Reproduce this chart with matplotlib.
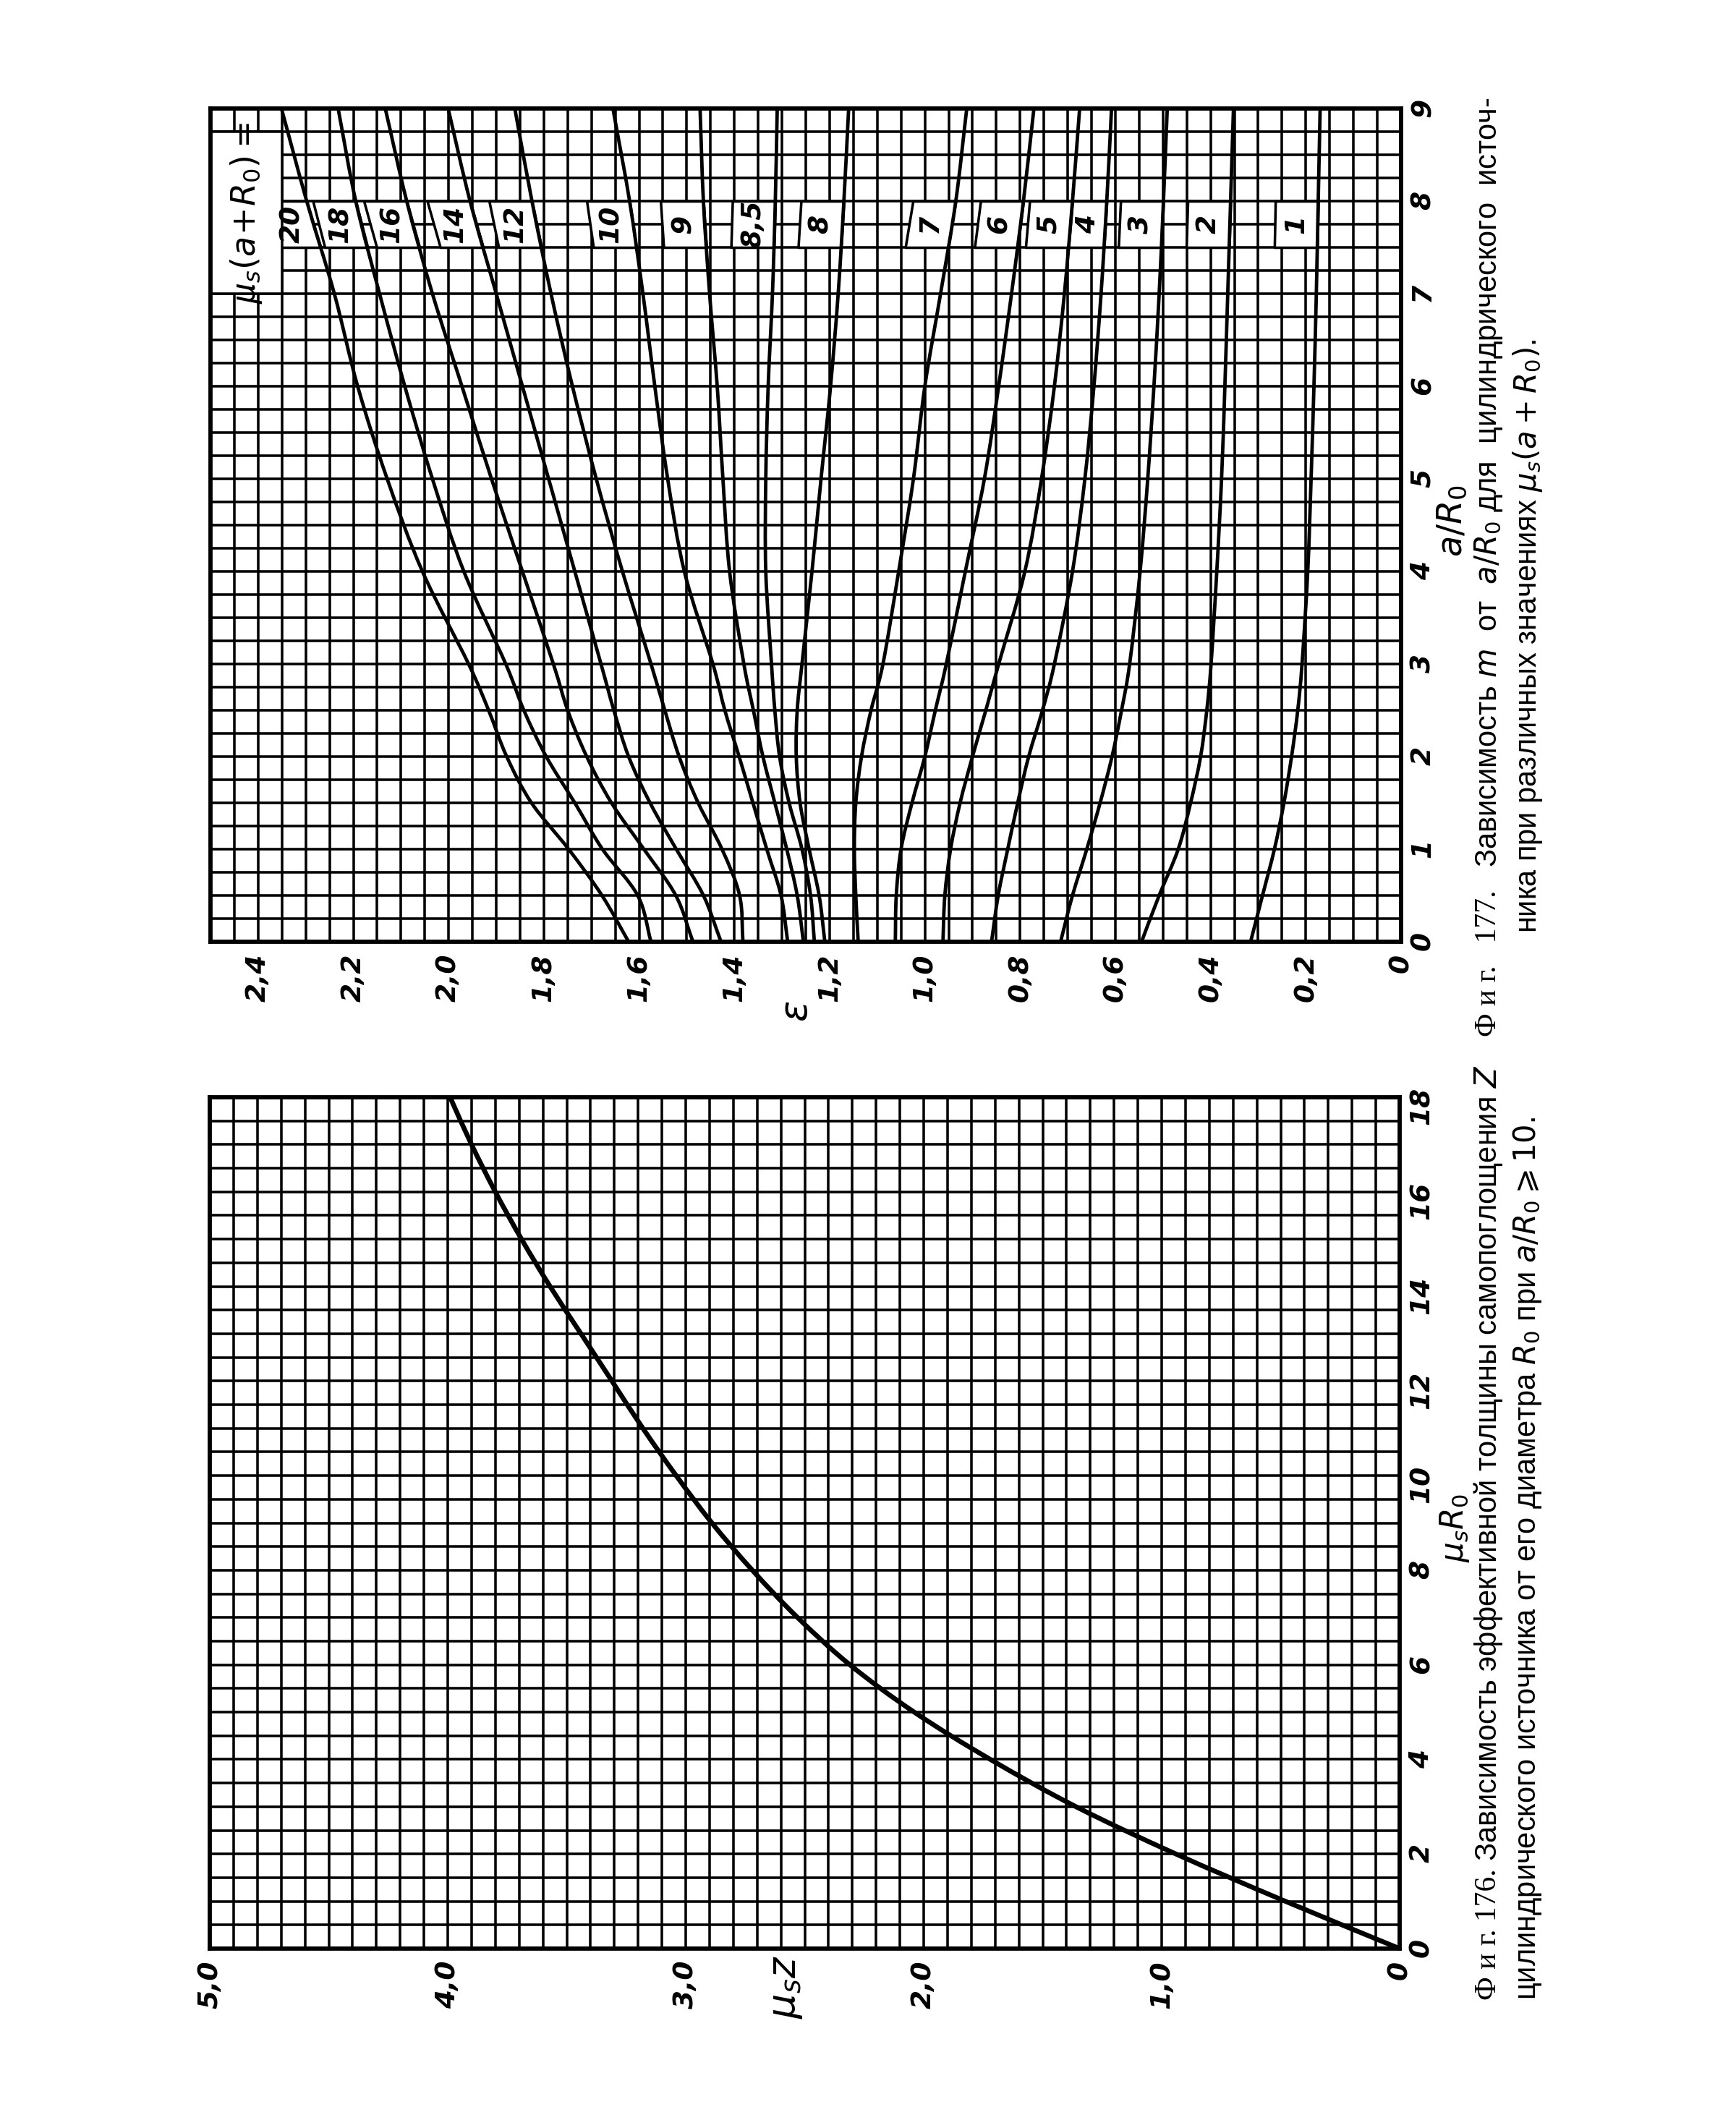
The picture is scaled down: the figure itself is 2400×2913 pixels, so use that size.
import numpy as np
import matplotlib.pyplot as plt
import matplotlib.transforms as mtransforms
from matplotlib.path import Path
from matplotlib.patches import PathPatch

plt.rcParams['font.family'] = ['DejaVu Sans']
plt.rcParams['mathtext.fontset'] = 'dejavusans'

# ---- Fig. 177 : eps vs a/R0 for different mu_s(a+R0) ----
a_r0 = [0, 0.5, 1, 1.5, 2, 2.5, 3, 4, 5, 6, 7, 8, 9]

eps_20 = [1.622, 1.678, 1.748, 1.826, 1.878, 1.916, 1.958, 2.055, 2.129, 2.191, 2.240, 2.298, 2.351]
eps_18 = [1.575, 1.603, 1.677, 1.735, 1.795, 1.842, 1.880, 1.968, 2.034, 2.092, 2.145, 2.195, 2.232]
eps_16 = [1.487, 1.523, 1.590, 1.658, 1.710, 1.750, 1.780, 1.845, 1.910, 1.972, 2.034, 2.088, 2.133]
eps_14 = [1.428, 1.465, 1.522, 1.577, 1.622, 1.653, 1.680, 1.735, 1.790, 1.845, 1.900, 1.955, 2.001]
eps_12 = [1.382, 1.389, 1.426, 1.476, 1.516, 1.546, 1.575, 1.635, 1.690, 1.740, 1.785, 1.825, 1.861]
eps_10 = [1.288, 1.302, 1.332, 1.361, 1.390, 1.420, 1.445, 1.505, 1.540, 1.567, 1.592, 1.620, 1.655]
eps_9 = [1.255, 1.268, 1.290, 1.315, 1.340, 1.360, 1.380, 1.410, 1.424, 1.436, 1.452, 1.465, 1.472]
eps_85 = [1.232, 1.240, 1.258, 1.285, 1.305, 1.315, 1.322, 1.334, 1.334, 1.329, 1.320, 1.314, 1.310]
eps_8 = [1.210, 1.222, 1.243, 1.262, 1.270, 1.268, 1.258, 1.237, 1.218, 1.198, 1.182, 1.170, 1.160]
eps_7 = [1.140, 1.145, 1.148, 1.145, 1.133, 1.113, 1.088, 1.055, 1.024, 1.000, 0.967, 0.935, 0.912]
eps_6 = [1.062, 1.060, 1.050, 1.027, 1.000, 0.978, 0.955, 0.915, 0.875, 0.845, 0.818, 0.793, 0.771]
eps_5 = [0.962, 0.958, 0.946, 0.926, 0.900, 0.872, 0.845, 0.790, 0.755, 0.728, 0.707, 0.690, 0.675]
eps_4 = [0.860, 0.846, 0.826, 0.805, 0.782, 0.753, 0.728, 0.690, 0.664, 0.645, 0.630, 0.618, 0.608]
eps_3 = [0.715, 0.690, 0.660, 0.632, 0.607, 0.587, 0.570, 0.548, 0.532, 0.519, 0.508, 0.499, 0.491]
eps_2 = [0.545, 0.508, 0.468, 0.442, 0.421, 0.408, 0.399, 0.387, 0.377, 0.370, 0.364, 0.358, 0.352]
eps_1 = [0.316, 0.291, 0.266, 0.246, 0.230, 0.217, 0.208, 0.196, 0.189, 0.183, 0.178, 0.174, 0.170]

curve_names = ['20', '18', '16', '14', '12', '10', '9', '8,5', '8', '7', '6', '5', '4', '3', '2', '1']
curves = [eps_20, eps_18, eps_16, eps_14, eps_12, eps_10, eps_9, eps_85,
          eps_8, eps_7, eps_6, eps_5, eps_4, eps_3, eps_2, eps_1]

eps_ticks = [0, 0.2, 0.4, 0.6, 0.8, 1.0, 1.2, 1.4, 1.6, 1.8, 2.0, 2.2, 2.4]
a_ticks = [0, 1, 2, 3, 4, 5, 6, 7, 8, 9]

# ---- Fig. 176 : mu_s z vs mu_s R0 ----
mu_r0 = [0, 1, 2, 3, 4, 5, 6, 7, 8, 9, 10, 11, 12, 13, 14, 15, 16, 17, 18]
mu_z = [0, 0.48, 0.94, 1.36, 1.72, 2.04, 2.31, 2.53, 2.72, 2.89, 3.04, 3.18, 3.31, 3.44,
        3.57, 3.69, 3.80, 3.90, 3.99]
z_ticks = [0, 1, 2, 3, 4, 5]
r0_ticks = [0, 2, 4, 6, 8, 10, 12, 14, 16, 18]


def comma(v):
    return '0' if v == 0 else ('%.1f' % v).replace('.', ',')


tick_font = dict(fontsize=9, fontstyle='italic', fontweight='bold')


def paper(ax, xmax, xstep, ymax, ystep):
    ax.set_xlim(xmax, 0)
    ax.set_ylim(0, ymax)
    ax.set_xticks(np.arange(0, xmax + 1e-9, xstep), minor=True)
    ax.set_yticks(np.arange(0, ymax + 1e-9, ystep), minor=True)
    ax.set_axisbelow(True)
    ax.grid(which='both', color='black', linewidth=0.85)
    ax.tick_params(which='both', length=0)
    ax.yaxis.tick_right()
    ax.tick_params(axis='x', labelrotation=90, pad=4)
    ax.tick_params(axis='y', labelrotation=90, pad=3)
    for sp in ax.spines.values():
        sp.set_linewidth(1.4)


def smooth_curve(ax, xs, ys, lw):
    # smooth drawing through the read points (Catmull-Rom as cubic Bezier)
    p = np.column_stack([xs, ys]).astype(float)
    ext = np.vstack([2 * p[0] - p[1], p, 2 * p[-1] - p[-2]])
    verts = [p[0]]
    codes = [Path.MOVETO]
    for i in range(1, len(ext) - 2):
        c1 = ext[i] + (ext[i + 1] - ext[i - 1]) / 6.0
        c2 = ext[i + 1] - (ext[i + 2] - ext[i]) / 6.0
        verts += [c1, c2, ext[i + 1]]
        codes += [Path.CURVE4] * 3
    ax.add_patch(PathPatch(Path(verts, codes), fill=False, edgecolor='black',
                           linewidth=lw, zorder=3, capstyle='round', joinstyle='round'))


fig = plt.figure(figsize=(8, 9.71), dpi=300)
W, H = 2400, 2913

# ---------- Fig 177 ----------
ax1 = fig.add_axes([291 / W, 1 - 1302 / H, 1646 / W, 1152 / H])
paper(ax1, 2.5, 0.05, 9, 0.25)
ax1.set_xticks(eps_ticks)
ax1.set_xticklabels([comma(v) for v in eps_ticks], **tick_font)
ax1.set_yticks(a_ticks)
ax1.set_yticklabels([str(v) for v in a_ticks], **tick_font)

band = np.linspace(7.5, 8.0, 11)
prev = None
for name, eps in zip(curve_names, curves):
    smooth_curve(ax1, eps, a_r0, 1.15)
    right = np.interp(band, a_r0, eps)
    left = right + 0.09
    if prev is not None:
        left = np.minimum(left, np.interp(band, a_r0, prev))
    ax1.fill_betweenx(band, left, right, facecolor='white', edgecolor='black',
                      linewidth=0.85, zorder=1.5)
    xc = 0.5 * (np.interp(7.75, band, left) + np.interp(7.75, band, right))
    ax1.text(xc, 7.75, name, rotation=90, ha='center', va='center', zorder=4,
             fontsize=9, fontstyle='italic', fontweight='bold')
    prev = eps

ax1.add_patch(plt.Rectangle((2.35, 7.0), 0.15, 1.75, facecolor='white',
                            edgecolor='black', linewidth=0.85, zorder=1.5))
ax1.text(2.425, 7.875, r'$\mu_s(a\!+\!R_0)=$', rotation=90, ha='center', va='center',
         fontsize=11, zorder=4)

tr_x = mtransforms.blended_transform_factory(ax1.transData, ax1.transAxes)
ax1.text(1.27, -0.084, r'$\varepsilon$', transform=tr_x, rotation=90,
         ha='center', va='center', fontsize=13)
tr_y = mtransforms.blended_transform_factory(ax1.transAxes, ax1.transData)
ax1.text(1.043, 4.55, r'$a/R_0$', transform=tr_y, rotation=90,
         ha='center', va='center', fontsize=11.5)

# ---------- Fig 176 ----------
ax2 = fig.add_axes([290 / W, 1 - 2694 / H, 1645 / W, 1177 / H])
paper(ax2, 5.0, 0.1, 18, 0.5)
ax2.set_xticks(z_ticks)
ax2.set_xticklabels([comma(v) for v in z_ticks], **tick_font)
ax2.set_yticks(r0_ticks)
ax2.set_yticklabels([str(v) for v in r0_ticks], **tick_font)
smooth_curve(ax2, mu_z, mu_r0, 1.6)

tr_x2 = mtransforms.blended_transform_factory(ax2.transData, ax2.transAxes)
ax2.text(2.58, -0.045, r'$\mu_s z$', transform=tr_x2, rotation=90,
         ha='center', va='center', fontsize=13)
tr_y2 = mtransforms.blended_transform_factory(ax2.transAxes, ax2.transData)
ax2.text(1.046, 8.9, r'$\mu_s R_0$', transform=tr_y2, rotation=90,
         ha='center', va='center', fontsize=10.5)

# ---------- captions (rotated, read bottom to top) ----------
renderer = fig.canvas.get_renderer()
serif = dict(family=['Liberation Serif', 'DejaVu Serif'], fontsize=10)
narrow = dict(family=['Liberation Sans Narrow', 'Liberation Sans', 'DejaVu Sans'], fontsize=10)


def caption(x, y0, parts):
    y = y0
    for s, kw in parts:
        t = fig.text(x, y, s, rotation=90, ha='center', va='bottom', **kw)
        y += t.get_window_extent(renderer).height / fig.bbox.height


caption(2058 / W, 1 - 1433 / H, [
    ('Ф и г.   177.   ', serif),
    ('Зависимость $m$  от  $a/R_0$ для  цилиндрического  источ-', narrow)])
caption(2112 / W, 1 - 1290 / H, [
    ('ника при различных значениях $\\mu_s(a+R_0)$.', narrow)])
caption(2058 / W, 1 - 2765 / H, [
    ('Ф и г. 176. ', serif),
    ('Зависимость эффективной толщины самопоглощения $Z$', narrow)])
caption(2112 / W, 1 - 2765 / H, [
    ('цилиндрического источника от его диаметра $R_0$ при $a/R_0 \\geqslant 10$.', narrow)])

fig.savefig('out.png', dpi=300, facecolor='white')
